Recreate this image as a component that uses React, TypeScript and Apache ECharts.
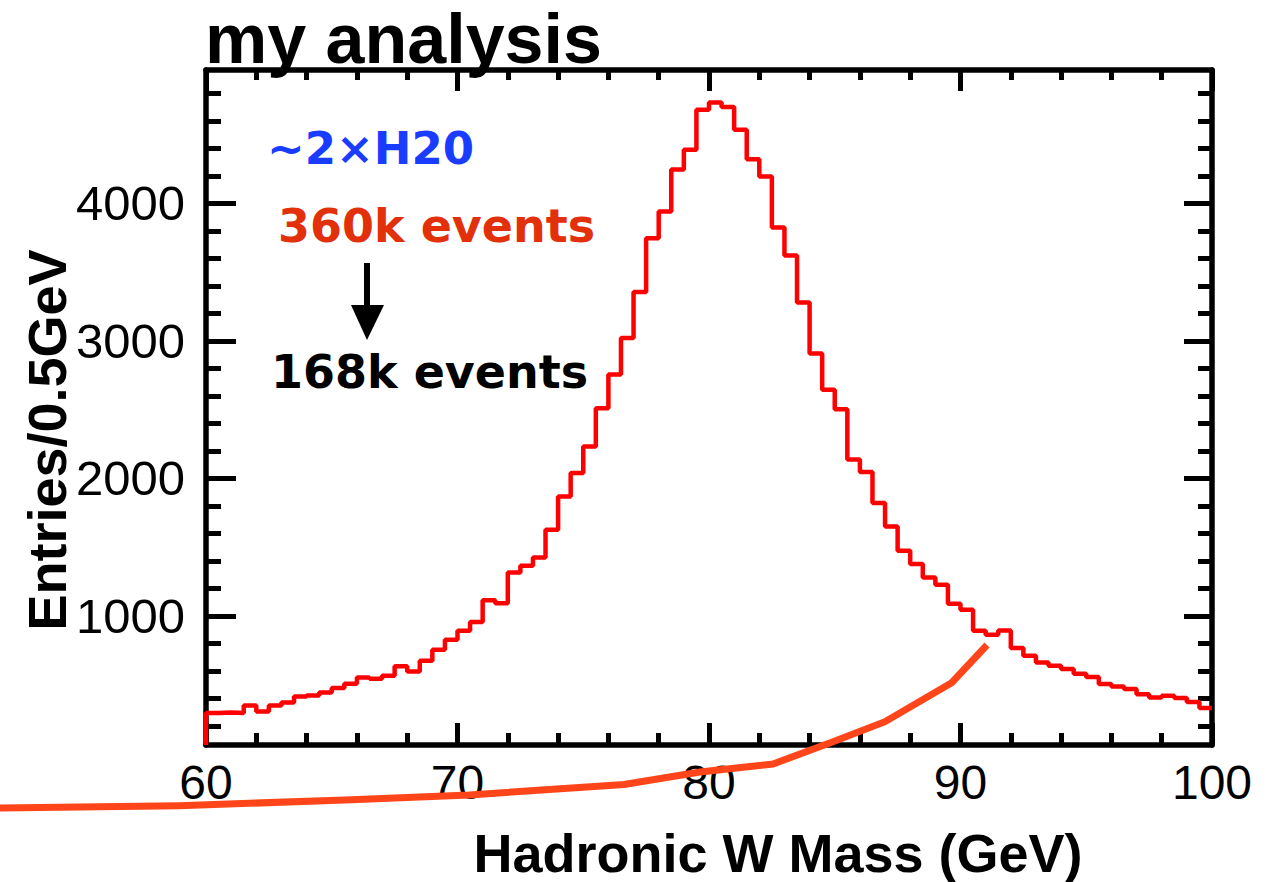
import React, { useEffect, useRef } from "react";
import * as echarts from "echarts";

// ---- data ----
const binStart = 60;
const binWidth = 0.5;
// entries per 0.5 GeV bin, 60 -> 100 GeV (80 bins)
const binCounts = [
  292, 297, 292, 348, 304, 348, 370, 413, 420, 442,
  474, 505, 551, 542, 564, 632, 595, 673, 753, 825,
  891, 954, 1113, 1092, 1315, 1364, 1424, 1625, 1868, 2038,
  2232, 2510, 2755, 3020, 3355, 3747, 3941, 4247, 4389, 4680,
  4733, 4700, 4535, 4321, 4195, 3825, 3620, 3279, 2908, 2644,
  2503, 2137, 2046, 1820, 1650, 1473, 1376, 1279, 1225, 1087,
  1044, 891, 862, 893, 765, 709, 660, 636, 612, 578,
  554, 503, 486, 467, 430, 406, 418, 401, 372, 329,
];
const xMin = 60;
const xMax = 100;
const xStep = 10;
const yMin = 60;
const yMax = 4970;
const yMajorTicks = [1000, 2000, 3000, 4000];
const yMinorTicks = [
  200, 400, 600, 800, 1200, 1400, 1600, 1800, 2200, 2400, 2600, 2800,
  3200, 3400, 3600, 3800, 4200, 4400, 4600, 4800,
];

const titleText = "my analysis";
const yTitle = "Entries/0.5GeV";
const xTitle = "Hadronic W Mass (GeV)";
const noteBlue = "~2×H20";
const noteRed = "360k events";
const noteBlack = "168k events";

// hand-drawn orange stroke on the slide (pixel coordinates, decoration)
const orangeStroke = [
  [0, 808], [179, 805.7], [345, 800], [469, 795], [624, 784.5], [700, 772],
  [773, 764], [833, 741.7], [885, 721.7], [951.7, 682.7], [987, 645],
];

const FONT = "'Liberation Sans', Arial, Helvetica, sans-serif";
const NOTE_FONT = "'DejaVu Sans', 'Liberation Sans', sans-serif";

export default function App() {
  const ref = useRef<HTMLDivElement>(null);
  useEffect(() => {
    if (!ref.current) return;
    const chart = echarts.init(ref.current, undefined, { renderer: "svg" });

    const histData: number[][] = [[binStart, yMin]];
    binCounts.forEach((v, i) => histData.push([binStart + i * binWidth, v]));
    histData.push([binStart + binCounts.length * binWidth, binCounts[binCounts.length - 1]]);

    const axisLine = { show: true, lineStyle: { color: "#000", width: 5.5 } };
    const tickStyle = { color: "#000", width: 5 };

    const xCommon = (pos: "bottom" | "top", majorLen: number, minorLen: number, labels: boolean) => ({
      type: "value",
      position: pos,
      min: xMin,
      max: xMax,
      interval: xStep,
      axisLine,
      axisTick: { show: true, inside: true, length: majorLen, lineStyle: tickStyle },
      minorTick: { show: true, splitNumber: 5, length: minorLen, lineStyle: tickStyle },
      axisLabel: {
        show: labels,
        fontSize: 48,
        fontFamily: FONT,
        color: "#000",
        margin: 13,
        formatter: (v: number) => String(v),
      },
      splitLine: { show: false },
      minorSplitLine: { show: false },
    });

    const yCommon = (pos: "left" | "right", values: number[], len: number, labels: boolean, line: boolean) => ({
      type: "value",
      position: pos,
      min: yMin,
      max: yMax,
      axisLine: line ? axisLine : { show: false },
      axisTick: { show: true, inside: true, length: len, lineStyle: tickStyle, customValues: values },
      axisLabel: {
        show: labels,
        customValues: values,
        fontSize: 49,
        fontFamily: FONT,
        color: "#000",
        margin: 21,
        formatter: (v: number) => String(v),
      },
      splitLine: { show: false },
    });

    chart.setOption({
      animation: false,
      backgroundColor: "#fff",
      grid: { left: 206, right: 70, top: 70, bottom: 137, containLabel: false },
      xAxis: [
        xCommon("bottom", 22, 12, true),
        xCommon("top", 21, 10, false),
      ],
      yAxis: [
        yCommon("left", yMajorTicks, 30, true, true),
        yCommon("left", yMinorTicks, 15, false, false),
        yCommon("right", yMajorTicks, 28, false, true),
        yCommon("right", yMinorTicks, 14, false, false),
      ],
      series: [
        {
          type: "line",
          xAxisIndex: 0,
          yAxisIndex: 0,
          step: "end",
          symbol: "none",
          data: histData,
          lineStyle: { color: "#ff0000", width: 4.5 },
          z: 3,
        },
      ],
      graphic: [
        {
          type: "text",
          x: 205,
          y: 39,
          style: { text: titleText, fontSize: 70, lineHeight: 70, fontWeight: "bold", fontFamily: FONT, fill: "#000", align: "left", verticalAlign: "middle" },
        },
        {
          type: "text",
          x: 47,
          y: 440,
          rotation: Math.PI / 2,
          style: { text: yTitle, fontSize: 54, fontWeight: "bold", fontFamily: FONT, fill: "#000", align: "center", verticalAlign: "middle" },
        },
        {
          type: "text",
          x: 778,
          y: 853,
          style: { text: xTitle, fontSize: 54, fontWeight: "bold", fontFamily: FONT, fill: "#000", align: "center", verticalAlign: "middle" },
        },
        {
          type: "text",
          x: 267,
          y: 148,
          style: { text: noteBlue, fontSize: 45, fontWeight: "bold", fontFamily: NOTE_FONT, fill: "#1a3cff", align: "left", verticalAlign: "middle" },
        },
        {
          type: "text",
          x: 278,
          y: 226,
          style: { text: noteRed, fontSize: 46, fontWeight: "bold", fontFamily: NOTE_FONT, fill: "#e2300a", align: "left", verticalAlign: "middle" },
        },
        {
          type: "text",
          x: 271,
          y: 372,
          style: { text: noteBlack, fontSize: 46, fontWeight: "bold", fontFamily: NOTE_FONT, fill: "#000", align: "left", verticalAlign: "middle" },
        },
        {
          type: "line",
          shape: { x1: 367, y1: 263, x2: 367, y2: 312 },
          style: { stroke: "#000", lineWidth: 6 },
        },
        {
          type: "polygon",
          shape: { points: [[351, 305], [384, 305], [367, 340]] },
          style: { fill: "#000" },
        },
        {
          type: "polyline",
          z: 100,
          shape: { points: orangeStroke },
          style: { stroke: "#ff4519", lineWidth: 7, fill: null },
        },
      ],
    });
    return () => chart.dispose();
  }, []);
  return (
    <div
      ref={ref}
      style={{ position: "fixed", left: 0, top: 0, width: 1282, height: 882, background: "#fff" }}
    />
  );
}
